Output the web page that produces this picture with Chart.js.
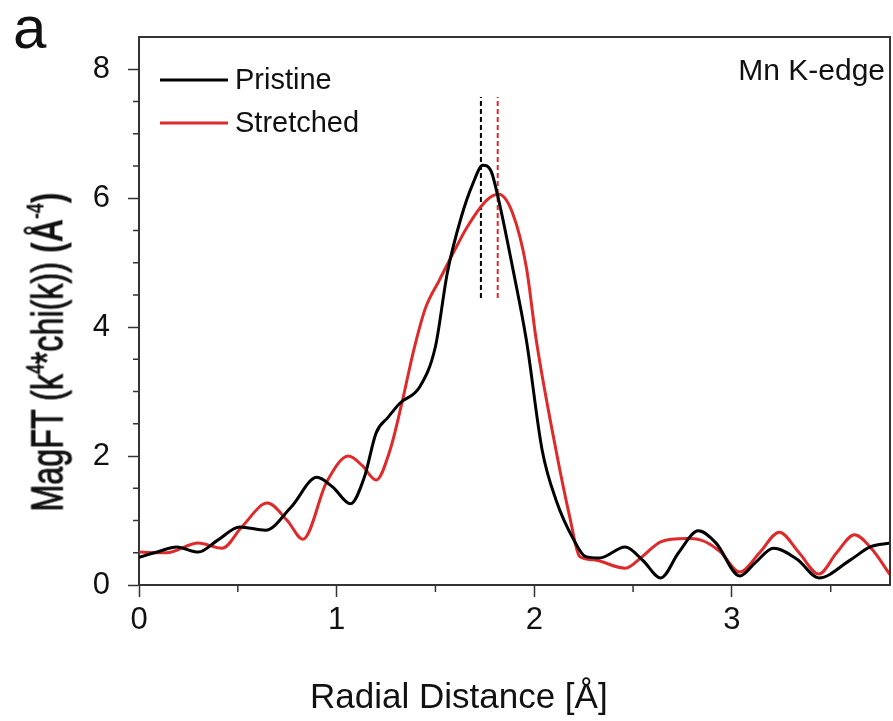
<!DOCTYPE html>
<html>
<head>
<meta charset="utf-8">
<script src="https://cdn.jsdelivr.net/npm/chart.js@4"></script>
<style>
  body { margin: 0; background: #fff; }
  #wrap { position: relative; width: 893px; height: 721px; }
  #ytitle {
    position: absolute; left: 47px; top: 352px;
    font-family: "Liberation Sans", Arial, sans-serif; font-size: 45px;
    line-height: 1; white-space: nowrap; color: #111;
    transform-origin: 50% 50%;
  }
  #ytitle sup { font-size: 0.55em; vertical-align: 0.75em; line-height: 0; }
</style>
</head>
<body>
<div id="wrap">
  <canvas id="chart" width="893" height="721"></canvas>
  <div id="ytitle"><span style="-webkit-text-stroke:1px #111">MagFT (k<sup>4</sup>*chi(k))</span> <b>(Å<sup>-4</sup>)</b></div>
</div>
<script>
// Pristine (black)
const pristineX = [0, 0.1, 0.19, 0.30, 0.40, 0.51, 0.64, 0.77, 0.90, 0.98, 1.07, 1.14, 1.20, 1.26, 1.32, 1.42, 1.50, 1.56, 1.63, 1.69, 1.74, 1.78, 1.82, 1.89, 1.96, 2.04, 2.11, 2.20, 2.26, 2.33, 2.46, 2.55, 2.64, 2.73, 2.83, 2.92, 3.04, 3.12, 3.21, 3.33, 3.44, 3.60, 3.70, 3.80];
const pristineY = [0.43, 0.52, 0.59, 0.51, 0.70, 0.90, 0.85, 1.21, 1.67, 1.52, 1.26, 1.67, 2.36, 2.60, 2.82, 3.07, 3.70, 4.84, 5.70, 6.23, 6.51, 6.43, 5.97, 4.93, 3.80, 2.09, 1.32, 0.70, 0.44, 0.42, 0.59, 0.38, 0.11, 0.50, 0.84, 0.65, 0.14, 0.35, 0.57, 0.40, 0.11, 0.39, 0.59, 0.65];

// Stretched (red)
const stretchedX = [0, 0.14, 0.30, 0.42, 0.52, 0.65, 0.75, 0.83, 0.95, 1.06, 1.13, 1.20, 1.27, 1.33, 1.39, 1.45, 1.52, 1.59, 1.66, 1.76, 1.82, 1.89, 1.96, 2.01, 2.11, 2.18, 2.23, 2.30, 2.46, 2.55, 2.64, 2.77, 2.84, 2.94, 3.04, 3.14, 3.24, 3.34, 3.44, 3.53, 3.62, 3.71, 3.80];
const stretchedY = [0.51, 0.50, 0.65, 0.57, 0.90, 1.27, 1.00, 0.71, 1.60, 2.00, 1.85, 1.63, 2.09, 2.82, 3.64, 4.30, 4.73, 5.15, 5.55, 5.97, 6.06, 5.77, 4.93, 3.80, 2.09, 1.05, 0.44, 0.39, 0.26, 0.45, 0.67, 0.72, 0.70, 0.52, 0.20, 0.50, 0.82, 0.50, 0.17, 0.50, 0.78, 0.55, 0.16];

// peak markers (dashed verticals)
const peakPristine = 1.73;
const peakStretched = 1.815;
const peakSpan = [4.45, 7.57];

const seriesNames = ["Pristine", "Stretched"];
const seriesColors = ["#000000", "#de2a2a"];
const xTicks = [0, 1, 2, 3];
const yTicks = [0, 2, 4, 6, 8];

const FONT = '"Liberation Sans", Arial, sans-serif';

function pts(xs, ys) {
  return xs.map((x, i) => ({ x: x, y: ys[i] }));
}

const decor = {
  id: "decor",
  afterDraw(chart) {
    const ctx = chart.ctx;
    const a = chart.chartArea;
    const xs = chart.scales.x, ys = chart.scales.y;
    ctx.save();
    // box top/right
    ctx.strokeStyle = "#333";
    ctx.lineWidth = 2;
    ctx.beginPath();
    ctx.moveTo(a.left, a.top);
    ctx.lineTo(a.right, a.top);
    ctx.lineTo(a.right, a.bottom);
    ctx.stroke();
    // minor ticks
    ctx.lineWidth = 1.5;
    ctx.beginPath();
    for (let v = 0.5; v < 3.8; v += 1) {
      const px = xs.getPixelForValue(v);
      ctx.moveTo(px, a.bottom);
      ctx.lineTo(px, a.bottom + 7);
    }
    for (let v = 0.5; v < 8.5; v += 0.5) {
      if (v % 2 === 0) continue;
      const py = ys.getPixelForValue(v);
      ctx.moveTo(a.left, py);
      ctx.lineTo(a.left - 6, py);
    }
    ctx.stroke();
    // legend
    ctx.lineWidth = 3;
    ctx.fillStyle = "#111";
    ctx.font = "29px " + FONT;
    ctx.textBaseline = "alphabetic";
    seriesNames.forEach((name, i) => {
      const y = 80 + i * 43;
      ctx.strokeStyle = seriesColors[i];
      ctx.beginPath();
      ctx.moveTo(160, y);
      ctx.lineTo(228, y);
      ctx.stroke();
      ctx.fillText(name, 235, y + 9);
    });
    // annotation
    ctx.font = "30px " + FONT;
    ctx.textAlign = "right";
    ctx.fillText("Mn K-edge", 885, 80);
    // x title
    ctx.textAlign = "left";
    ctx.font = "35px " + FONT;
    ctx.fillText("Radial Distance [Å]", 310, 708);
    // panel label
    ctx.font = "60px " + FONT;
    ctx.fillText("a", 13, 48);
    ctx.restore();
  }
};

new Chart(document.getElementById("chart"), {
  type: "scatter",
  data: {
    datasets: [
      {
        label: seriesNames[0],
        data: pts(pristineX, pristineY),
        borderColor: seriesColors[0],
        borderWidth: 3,
        showLine: true,
        pointRadius: 0,
        cubicInterpolationMode: "monotone"
      },
      {
        label: seriesNames[1],
        data: pts(stretchedX, stretchedY),
        borderColor: seriesColors[1],
        borderWidth: 3,
        showLine: true,
        pointRadius: 0,
        cubicInterpolationMode: "monotone"
      },
      {
        label: "peak1",
        data: [{ x: peakPristine, y: peakSpan[0] }, { x: peakPristine, y: peakSpan[1] }],
        borderColor: seriesColors[0],
        borderWidth: 2,
        borderDash: [5, 3],
        showLine: true,
        pointRadius: 0
      },
      {
        label: "peak2",
        data: [{ x: peakStretched, y: peakSpan[0] }, { x: peakStretched, y: peakSpan[1] }],
        borderColor: seriesColors[1],
        borderWidth: 2,
        borderDash: [5, 3],
        showLine: true,
        pointRadius: 0
      }
    ]
  },
  options: {
    responsive: false,
    animation: false,
    layout: { padding: { left: 0, top: 37, right: 3, bottom: 0 } },
    plugins: { legend: { display: false }, tooltip: { enabled: false } },
    scales: {
      x: {
        type: "linear",
        min: 0,
        max: 3.8,
        afterFit: s => { s.height = 136; },
        afterBuildTicks: s => { s.ticks = xTicks.map(v => ({ value: v })); },
        grid: { drawOnChartArea: false, tickLength: 12, tickColor: "#333", tickWidth: 1.5 },
        border: { color: "#333", width: 2 },
        ticks: { font: { family: FONT, size: 31 }, color: "#111", padding: 5, maxRotation: 0 }
      },
      y: {
        min: 0,
        max: 8.5,
        afterFit: s => { s.width = 139; },
        afterBuildTicks: s => { s.ticks = yTicks.map(v => ({ value: v })); },
        grid: { drawOnChartArea: false, tickLength: 11, tickColor: "#333", tickWidth: 1.5 },
        border: { color: "#333", width: 2 },
        ticks: { font: { family: FONT, size: 31 }, color: "#111", padding: 18 }
      }
    }
  },
  plugins: [decor]
});

// fit the rotated axis title to the reference length
const yt = document.getElementById("ytitle");
const k = 319 / yt.offsetWidth;
yt.style.transform = "translate(-50%, -50%) rotate(-90deg) scale(" + k + ", 1)";
</script>
</body>
</html>
